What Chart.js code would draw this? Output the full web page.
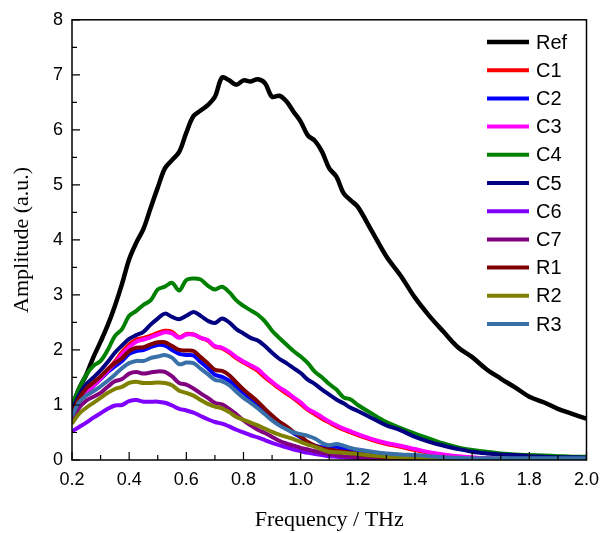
<!DOCTYPE html>
<html>
<head>
<meta charset="utf-8">
<script src="https://cdn.jsdelivr.net/npm/chart.js@4"></script>
<style>
  body { margin: 0; background: #fff; }
  #wrap { width: 608px; height: 533px; }
</style>
</head>
<body>
<div id="wrap"><canvas id="ampChart"></canvas></div>
<script>
// frequency grid (THz): fine steps up to 1.2, coarser after
const freq = [0.2,0.225,0.25,0.275,0.3,0.325,0.35,0.375,0.4,0.425,0.45,0.475,0.5,0.525,0.55,0.575,0.6,0.625,0.65,0.675,
  0.7,0.725,0.75,0.775,0.8,0.825,0.85,0.875,0.9,0.925,0.95,0.975,1.0,1.025,1.05,1.075,1.1,1.125,1.15,1.175,1.2,
  1.25,1.3,1.35,1.4,1.45,1.5,1.55,1.6,1.65,1.7,1.75,1.8,1.85,1.9,1.95,2.0];

const ref = [0.97,1.3,1.55,1.87,2.15,2.45,2.8,3.2,3.65,3.95,4.2,4.58,4.95,5.3,5.45,5.6,5.95,6.25,6.35,6.45,
  6.6,6.95,6.9,6.82,6.9,6.88,6.92,6.85,6.6,6.62,6.52,6.33,6.15,5.9,5.8,5.6,5.3,5.15,4.85,4.72,4.6,
  4.15,3.7,3.35,2.95,2.62,2.33,2.05,1.87,1.65,1.48,1.32,1.15,1.05,0.93,0.84,0.75];
const c1 = [0.82,1.07,1.22,1.36,1.5,1.64,1.79,1.96,2.1,2.19,2.22,2.26,2.31,2.35,2.33,2.23,2.29,2.28,2.22,2.17,
  2.06,2.03,1.95,1.85,1.77,1.7,1.62,1.5,1.4,1.3,1.21,1.12,1.02,0.91,0.83,0.75,0.68,0.61,0.55,0.5,0.45,
  0.36,0.29,0.24,0.18,0.13,0.09,0.06,0.04,0.03,0.02,0.01,0.01,0.01,0.01,0.01,0.01];
const c2 = [0.75,1.05,1.22,1.35,1.47,1.6,1.7,1.8,1.93,1.98,2.0,2.05,2.09,2.08,2.0,1.93,1.91,1.9,1.78,1.67,
  1.55,1.51,1.44,1.33,1.22,1.11,1.02,0.9,0.76,0.66,0.58,0.49,0.41,0.31,0.26,0.23,0.23,0.24,0.2,0.17,0.14,
  0.09,0.06,0.04,0.03,0.02,0.02,0.01,0.01,0.01,0.01,0.01,0.01,0.01,0.01,0.01,0.01];
const c3 = [0.8,1.05,1.2,1.35,1.48,1.62,1.76,1.92,2.05,2.15,2.19,2.23,2.28,2.32,2.3,2.22,2.28,2.28,2.22,2.18,
  2.07,2.04,1.97,1.87,1.79,1.72,1.65,1.53,1.42,1.32,1.24,1.14,1.05,0.93,0.86,0.78,0.7,0.63,0.57,0.52,0.47,
  0.38,0.31,0.26,0.2,0.14,0.1,0.07,0.05,0.03,0.02,0.02,0.01,0.01,0.01,0.01,0.01];
const c4 = [1.0,1.3,1.55,1.71,1.8,2.0,2.25,2.38,2.62,2.71,2.82,2.9,3.1,3.15,3.22,3.08,3.27,3.3,3.28,3.17,
  3.1,3.15,3.05,2.9,2.8,2.72,2.64,2.52,2.35,2.22,2.1,1.98,1.88,1.76,1.6,1.5,1.38,1.28,1.14,1.1,1.0,
  0.84,0.69,0.58,0.48,0.39,0.3,0.23,0.18,0.15,0.12,0.1,0.09,0.08,0.07,0.06,0.06];
const c5 = [0.9,1.18,1.38,1.5,1.63,1.78,1.95,2.08,2.2,2.27,2.33,2.46,2.57,2.66,2.6,2.56,2.62,2.69,2.62,2.53,
  2.49,2.57,2.5,2.38,2.3,2.22,2.17,2.07,1.95,1.84,1.76,1.67,1.58,1.46,1.38,1.28,1.19,1.1,1.03,0.95,0.89,
  0.76,0.63,0.54,0.42,0.33,0.26,0.2,0.15,0.12,0.1,0.09,0.07,0.06,0.05,0.05,0.04];
const c6 = [0.52,0.6,0.68,0.77,0.85,0.93,0.99,1.0,1.07,1.09,1.06,1.06,1.06,1.04,0.99,0.93,0.9,0.86,0.8,0.74,
  0.69,0.66,0.61,0.55,0.5,0.45,0.41,0.36,0.31,0.27,0.23,0.19,0.16,0.13,0.11,0.09,0.07,0.06,0.05,0.04,0.03,
  0.02,0.01,0.01,0.01,0.01,0.01,0.01,0.01,0.01,0.01,0.01,0.01,0.01,0.01,0.01,0.01];
const c7 = [0.72,0.95,1.08,1.15,1.22,1.33,1.43,1.47,1.57,1.6,1.57,1.59,1.61,1.6,1.52,1.4,1.37,1.3,1.21,1.13,
  1.04,1.01,0.93,0.83,0.72,0.63,0.55,0.49,0.42,0.35,0.3,0.26,0.22,0.19,0.16,0.13,0.11,0.09,0.07,0.06,0.05,
  0.03,0.02,0.01,0.01,0.01,0.01,0.01,0.01,0.01,0.01,0.01,0.01,0.01,0.01,0.01,0.01];
const r1 = [0.83,1.12,1.3,1.41,1.52,1.65,1.76,1.85,1.98,2.04,2.05,2.1,2.14,2.14,2.07,2.0,1.99,1.98,1.87,1.76,
  1.64,1.62,1.54,1.41,1.28,1.17,1.06,0.93,0.81,0.7,0.61,0.51,0.43,0.33,0.26,0.21,0.19,0.17,0.15,0.13,0.11,
  0.08,0.05,0.04,0.03,0.02,0.01,0.01,0.01,0.01,0.01,0.01,0.01,0.01,0.01,0.01,0.01];
const r2 = [0.66,0.84,0.95,1.04,1.13,1.22,1.29,1.33,1.4,1.42,1.4,1.4,1.41,1.4,1.36,1.26,1.22,1.17,1.09,1.02,
  0.97,0.94,0.87,0.78,0.73,0.68,0.63,0.57,0.51,0.46,0.42,0.38,0.33,0.28,0.24,0.19,0.15,0.14,0.13,0.12,0.11,
  0.08,0.06,0.05,0.04,0.03,0.02,0.02,0.01,0.01,0.01,0.01,0.01,0.01,0.01,0.01,0.01];
const r3 = [0.8,1.05,1.17,1.25,1.34,1.44,1.55,1.67,1.76,1.8,1.8,1.85,1.88,1.91,1.86,1.74,1.77,1.76,1.66,1.56,
  1.46,1.43,1.36,1.24,1.13,1.04,0.94,0.83,0.72,0.63,0.56,0.5,0.47,0.44,0.39,0.31,0.27,0.29,0.26,0.22,0.19,
  0.15,0.12,0.1,0.09,0.07,0.05,0.04,0.03,0.03,0.03,0.03,0.03,0.03,0.03,0.03,0.03];

const seriesNames = ["Ref", "C1", "C2", "C3", "C4", "C5", "C6", "C7", "R1", "R2", "R3"];
const seriesValues = [ref, c1, c2, c3, c4, c5, c6, c7, r1, r2, r3];
const seriesColors = ["#000000", "#ff0000", "#0000ff", "#ff00ff", "#008000", "#000080",
  "#8000ff", "#800080", "#800000", "#808000", "#3a70a8"];

const datasets = seriesNames.map((name, i) => ({
  label: name,
  data: freq.map((f, k) => ({ x: f, y: seriesValues[i][k] })),
  borderColor: seriesColors[i],
  backgroundColor: seriesColors[i],
  borderWidth: i === 0 ? 4.5 : 4,
  pointRadius: 0,
  tension: 0.35,
  fill: false,
  order: seriesNames.length - i   // later series drawn on top
}));

// frame, inward ticks and the legend box
const decorations = {
  id: "decorations",
  afterDraw(chart) {
    const { ctx, chartArea: a, scales: { x, y } } = chart;
    ctx.save();
    ctx.strokeStyle = "#000";
    ctx.lineWidth = 1.5;
    ctx.strokeRect(a.left, a.top, a.right - a.left, a.bottom - a.top);

    ctx.lineWidth = 1.2;
    ctx.beginPath();
    for (let v = 2; v <= 20; v++) {
      const px = x.getPixelForValue(v / 10);
      const len = v % 2 === 0 ? 8 : 5;
      ctx.moveTo(px, a.bottom);
      ctx.lineTo(px, a.bottom - len);
    }
    for (let v = 0; v <= 16; v++) {
      const py = y.getPixelForValue(v / 2);
      const len = v % 2 === 0 ? 8 : 5;
      ctx.moveTo(a.left, py);
      ctx.lineTo(a.left + len, py);
    }
    ctx.stroke();

    // legend
    ctx.font = "20px 'Liberation Sans', Arial, sans-serif";
    ctx.textBaseline = "middle";
    ctx.textAlign = "left";
    chart.data.datasets.forEach((ds, i) => {
      const ly = 42 + i * 28.2;
      ctx.strokeStyle = ds.borderColor;
      ctx.lineWidth = ds.borderWidth;
      ctx.beginPath();
      ctx.moveTo(487, ly);
      ctx.lineTo(529, ly);
      ctx.stroke();
      ctx.fillStyle = "#000";
      ctx.fillText(ds.label, 536, ly + 1);
    });
    ctx.restore();
  }
};

new Chart(document.getElementById("ampChart"), {
  type: "line",
  data: { datasets },
  options: {
    responsive: true,
    maintainAspectRatio: false,
    animation: false,
    layout: { padding: { left: 0, right: 14, top: 15, bottom: 0 } },
    plugins: {
      legend: { display: false },
      tooltip: { enabled: false }
    },
    scales: {
      x: {
        type: "linear",
        min: 0.2,
        max: 2.0,
        grid: { display: false, drawTicks: false },
        border: { display: false },
        ticks: {
          stepSize: 0.2,
          padding: 9,
          color: "#000",
          font: { family: "'Liberation Sans', Arial, sans-serif", size: 18 },
          callback: v => Number(v).toFixed(1)
        },
        title: {
          display: true,
          text: "Frequency / THz",
          color: "#000",
          padding: { top: 0, bottom: 0 },
          font: { family: "'Liberation Serif', 'Times New Roman', serif", size: 22 }
        },
        afterFit: s => { s.height = 73; }
      },
      y: {
        min: 0,
        max: 8,
        grid: { display: false, drawTicks: false },
        border: { display: false },
        ticks: {
          stepSize: 1,
          padding: 9,
          color: "#000",
          font: { family: "'Liberation Sans', Arial, sans-serif", size: 18 }
        },
        title: {
          display: true,
          text: "Amplitude (a.u.)",
          color: "#000",
          padding: { top: 9, bottom: 0 },
          font: { family: "'Liberation Serif', 'Times New Roman', serif", size: 22 }
        },
        afterFit: s => { s.width = 72; }
      }
    }
  },
  plugins: [decorations]
});
</script>
</body>
</html>
